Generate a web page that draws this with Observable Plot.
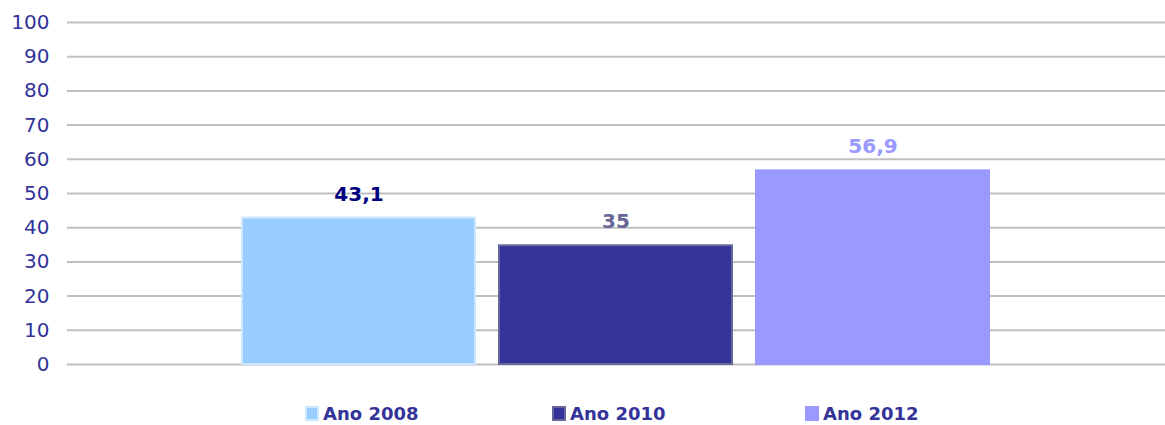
<!DOCTYPE html>
<html>
<head>
<meta charset="utf-8">
<script src="https://cdn.jsdelivr.net/npm/d3@7"></script>
<script src="https://cdn.jsdelivr.net/npm/@observablehq/plot@0.6"></script>
<style>
  body { margin: 0; background: #fff; font-family: "DejaVu Sans", Verdana, sans-serif; }
  #chart svg { display: block; }
  #legend { position: relative; height: 30px; width: 1165px; }
  .item { position: absolute; top: 8px; display: flex; align-items: center; font-weight: bold; font-size: 18px; color: #333399; }
  .sw { width: 14px; height: 15px; margin-right: 4px; box-sizing: border-box; }
</style>
</head>
<body>
<div id="chart"></div>
<div id="legend"></div>
<script>
const years = ["Ano 2008", "Ano 2010", "Ano 2012"];
const values = [43.1, 35, 56.9];
const valueLabels = ["43,1", "35", "56,9"];
const barColors = ["#99CCFF", "#333399", "#9999FF"];
const barStrokes = ["#CCE6FF", "#666699", "#9999FF"];
const labelColors = ["#000080", "#666699", "#9999FF"];
const yTicks = [0, 10, 20, 30, 40, 50, 60, 70, 80, 90, 100];
const legendLefts = [305, 552, 805];

const data = years.map((y, i) => ({year: y, value: values[i], label: valueLabels[i], fill: barColors[i], stroke: barStrokes[i], lc: labelColors[i]}));

const chart = Plot.plot({
  width: 1165,
  height: 395,
  marginLeft: 67,
  marginRight: 0,
  marginTop: 22,
  marginBottom: 31,
  style: {fontFamily: "DejaVu Sans, Verdana, sans-serif", background: "#fff"},
  x: {domain: years, axis: null, paddingInner: 0.0856, paddingOuter: 0.675},
  y: {domain: [0, 100], ticks: yTicks, tickSize: 0, tickPadding: 18, label: null},
  marks: [
    Plot.ruleY(yTicks, {stroke: "#C0C0C0", strokeWidth: 2}),
    Plot.axisY({ticks: yTicks, tickSize: 0, tickPadding: 18, fontSize: 20, fill: "#333399", label: null}),
    Plot.barY(data, {x: "year", y: "value", fill: "fill", stroke: "stroke", strokeWidth: 2, insetTop: 1, insetLeft: 1, insetRight: 1}),
    Plot.text(data, {x: "year", y: "value", text: "label", fill: "lc", dy: -23, fontSize: 20, fontWeight: "bold"})
  ]
});
document.getElementById("chart").appendChild(chart);

const legend = document.getElementById("legend");
years.forEach((y, i) => {
  const it = document.createElement("div");
  it.className = "item";
  it.style.left = legendLefts[i] + "px";
  const sw = document.createElement("div");
  sw.className = "sw";
  sw.style.background = barColors[i];
  sw.style.border = "2px solid " + barStrokes[i];
  it.appendChild(sw);
  const t = document.createElement("span");
  t.textContent = y;
  it.appendChild(t);
  legend.appendChild(it);
});
</script>
</body>
</html>
